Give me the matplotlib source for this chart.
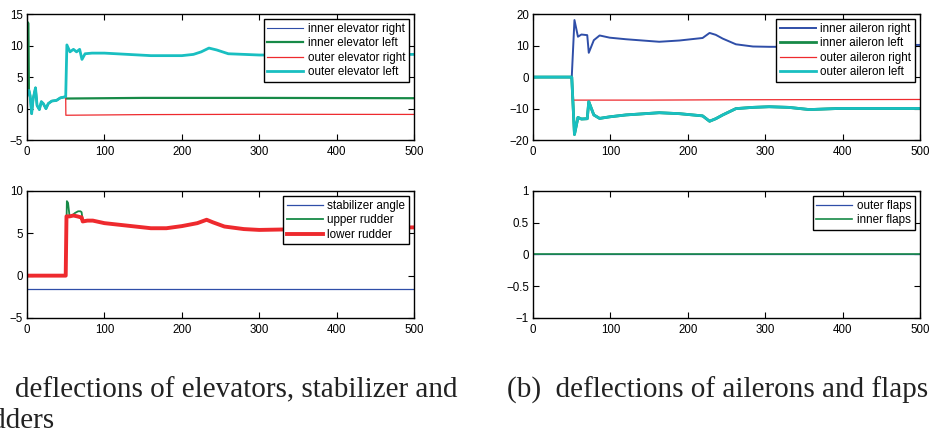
#!/usr/bin/env python3
"""
Control surface deflections: elevators/stabilizer/rudders and ailerons/flaps.
MATLAB-style 2x2 panel figure with LaTeX-like subcaptions.
"""

import matplotlib
matplotlib.use("Agg")
import matplotlib.pyplot as plt

plt.rcParams['font.family'] = ['Liberation Sans', 'DejaVu Sans']

# colours as they come out of the old MATLAB default palette (slightly muted in print)
BLUE = '#2f4ea8'
GREEN = '#178a47'
RED = '#ee2a2e'
CYAN = '#19bfc1'

# --- (a) elevators ---------------------------------------------------------
# first 50 s: all elevators move together (only cyan visible)
elev_early_t = [0, 2.5, 4, 6, 8, 11, 13, 16, 18.5, 21, 24.5, 27.5, 32, 38, 43, 50]
elev_early_v = [2.0, 2.9, 2.1, -0.8, 1.6, 3.3, 0.5, -0.15, 1.1, 0.8, 0.0, 0.8, 1.2, 1.3, 1.7, 1.9]

outer_elev_left_t = [51.5, 55.5, 60, 64, 68, 71, 75, 84, 100, 130, 160, 200,
                     215, 225, 235, 245, 260, 300, 400, 500]
outer_elev_left_v = [10.1, 9.0, 9.4, 9.0, 9.4, 7.8, 8.7, 8.8, 8.8, 8.6, 8.4, 8.4,
                     8.6, 9.0, 9.6, 9.3, 8.7, 8.5, 8.5, 8.6]

inner_elev_spike_t = [0, 1.0, 1.8]
inner_elev_spike_v = [2.0, 13.7, 13.5]
inner_elev_left_t = [50.2, 150, 300, 500]
inner_elev_left_v = [1.6, 1.7, 1.7, 1.65]

outer_elev_right_t = [50.2, 150, 300, 500]
outer_elev_right_v = [-1.05, -0.95, -0.9, -0.92]

# --- (a) stabilizer and rudders -------------------------------------------
stab_t = [0, 500]
stab_v = [-1.6, -1.6]

lower_rud_t = [0, 50, 51, 55, 60, 65, 69, 70.5, 72, 78, 85, 100, 130, 160, 180,
               200, 220, 232, 240, 255, 280, 300, 330, 400, 500]
lower_rud_v = [0, 0, 7.0, 7.0, 7.1, 7.0, 6.9, 6.9, 6.4, 6.5, 6.5, 6.2, 5.9, 5.6, 5.6,
               5.85, 6.2, 6.6, 6.3, 5.8, 5.5, 5.4, 5.45, 5.6, 5.7]

upper_rud_t = [0, 50, 51.5, 53, 55, 58, 62, 66, 69, 70.5, 72]
upper_rud_v = [0, 0, 8.8, 8.6, 7.0, 7.1, 7.4, 7.6, 7.6, 7.5, 6.5]

# --- (b) ailerons ------------------------------------------------------------
ail_t = [0, 50, 53.5, 58, 62.5, 70, 72, 78.5, 86, 99, 120, 163, 189, 219, 228,
         236, 245, 262, 284, 305, 330, 357, 395, 500]
inner_ail_right_v = [0, 0, 18.1, 12.8, 13.5, 13.3, 7.7, 11.7, 13.2, 12.5, 12.0, 11.2,
                     11.6, 12.4, 14.0, 13.4, 12.2, 10.4, 9.7, 9.6, 9.6, 10.1, 10.0, 10.2]
outer_ail_left_v = [0, 0, -18.2, -12.8, -13.3, -13.2, -7.8, -12.0, -13.1, -12.6, -12.0,
                    -11.3, -11.6, -12.3, -14.0, -13.2, -12.0, -10.0, -9.6, -9.4, -9.6,
                    -10.3, -9.95, -9.95]
inner_ail_left_v = outer_ail_left_v  # hidden under the cyan trace

outer_ail_right_t = [0, 50, 51, 150, 250, 500]
outer_ail_right_v = [0, 0, -7.3, -7.3, -7.2, -7.1]

# --- (b) flaps -------------------------------------------------------------
flap_t = [0, 500]
outer_flaps_v = [0, 0]
inner_flaps_v = [0, 0]


def matlab_axes(ax, ylim, yticks, yticklabels=None):
    """Boxed axes with inward ticks on all sides, like MATLAB."""
    ax.set_xlim(0, 500)
    ax.set_ylim(*ylim)
    ax.set_xticks([0, 100, 200, 300, 400, 500])
    ax.set_yticks(yticks)
    if yticklabels is not None:
        ax.set_yticklabels(yticklabels)
    ax.tick_params(direction='in', top=True, right=True, length=4, width=0.8,
                   labelsize=8.3, pad=3, colors='black')
    ax.tick_params(axis='x', pad=4)
    for s in ax.spines.values():
        s.set_linewidth(1.0)
        s.set_color('black')


def matlab_legend(ax):
    leg = ax.legend(loc='upper right', fontsize=8.4, frameon=True, fancybox=False,
                    edgecolor='black', framealpha=1, handlelength=3.1,
                    handletextpad=0.4, labelspacing=0.22, borderpad=0.3,
                    borderaxespad=0.45)
    leg.get_frame().set_linewidth(1.0)
    return leg


fig = plt.figure(figsize=(9.34, 4.38), dpi=100)

W = 0.4145
ax_el = fig.add_axes([0.0289, 0.680, W, 0.288])
ax_ai = fig.add_axes([0.5707, 0.680, W, 0.288])
ax_ru = fig.add_axes([0.0289, 0.274, W, 0.290])
ax_fl = fig.add_axes([0.5707, 0.274, W, 0.290])

# elevators
ax_el.plot(elev_early_t + outer_elev_left_t, elev_early_v + outer_elev_left_v,
           color=BLUE, lw=0.8, label='inner elevator right')
ax_el.plot(inner_elev_spike_t + elev_early_t[1:] + inner_elev_left_t,
           inner_elev_spike_v + elev_early_v[1:] + inner_elev_left_v,
           color=GREEN, lw=1.6, label='inner elevator left')
ax_el.plot(elev_early_t + outer_elev_right_t, elev_early_v + outer_elev_right_v,
           color=RED, lw=0.9, label='outer elevator right')
ax_el.plot(elev_early_t + outer_elev_left_t, elev_early_v + outer_elev_left_v,
           color=CYAN, lw=2.0, label='outer elevator left')
matlab_axes(ax_el, (-5, 15), [-5, 0, 5, 10, 15])
matlab_legend(ax_el)

# ailerons
ax_ai.plot(ail_t, inner_ail_right_v, color=BLUE, lw=1.4, label='inner aileron right')
ax_ai.plot(ail_t, inner_ail_left_v, color=GREEN, lw=2.0, label='inner aileron left')
ax_ai.plot(outer_ail_right_t, outer_ail_right_v, color=RED, lw=0.9,
           label='outer aileron right')
ax_ai.plot(ail_t, outer_ail_left_v, color=CYAN, lw=2.0, label='outer aileron left')
matlab_axes(ax_ai, (-20, 20), [-20, -10, 0, 10, 20])
matlab_legend(ax_ai)

# stabilizer / rudders
ax_ru.plot(stab_t, stab_v, color=BLUE, lw=0.9, label='stabilizer angle')
ax_ru.plot(upper_rud_t + lower_rud_t[9:], upper_rud_v + lower_rud_v[9:],
           color=GREEN, lw=1.3, label='upper rudder')
ax_ru.plot(lower_rud_t, lower_rud_v, color=RED, lw=2.8, label='lower rudder')
matlab_axes(ax_ru, (-5, 10), [-5, 0, 5, 10])
matlab_legend(ax_ru)

# flaps
ax_fl.plot(flap_t, outer_flaps_v, color=BLUE, lw=0.9, label='outer flaps')
ax_fl.plot(flap_t, inner_flaps_v, color=GREEN, lw=1.2, label='inner flaps')
matlab_axes(ax_fl, (-1, 1), [-1, -0.5, 0, 0.5, 1], ['\u22121', '\u22120.5', '0', '0.5', '1'])
matlab_legend(ax_fl)

# subcaptions (the left one runs off the page edge in the source scan)
cap = dict(family=['Liberation Serif', 'DejaVu Serif'], fontsize=21, color='#222222',
           va='baseline')
fig.text(0.490, 0.0913, '(a)  deflections of elevators, stabilizer and', ha='right', **cap)
fig.text(0.0589, 0.0228, 'rudders', ha='right', **cap)
fig.text(0.768, 0.0913, '(b)  deflections of ailerons and flaps', ha='center', **cap)

fig.savefig('out.png', dpi=100)
